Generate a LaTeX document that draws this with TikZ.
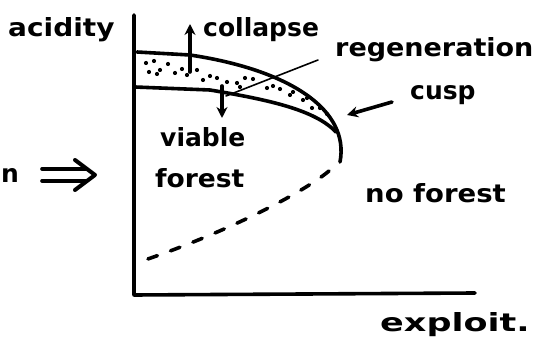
\documentclass[tikz,border=0pt]{standalone}
\usepackage{fontspec}
\setmainfont{DejaVu Sans}
\usetikzlibrary{arrows.meta}
\tikzset{
  hand/.style={inner sep=0pt, font=\fontsize{25}{25}\selectfont\bfseries},
  ink/.style={line width=3.6pt, line cap=round, line join=round, black},
  thinink/.style={line width=1.6pt, line cap=round},
  inkarrow/.style={ink, -{Stealth[length=11pt,width=11pt]}},
  dot/.style={fill=black, circle, inner sep=0pt, minimum size=4.2pt},
}
\begin{document}
\begin{tikzpicture}[x=1pt,y=-1pt]
\useasboundingbox (0,0) rectangle (536,347);
% axes
\coordinate (ytop) at (134,15);
\coordinate (orig) at (134,295);
\coordinate (xend) at (475,293);
\draw[ink] (ytop) -- (orig) -- (xend);
% texts
\node[hand, anchor=west] (acid) at (8,30) {\scalebox{1.12}[1]{acidity}};
\node[hand, anchor=west] (expl) at (380,325) {\scalebox{1.4}[1]{exploit.}};
\node[hand, anchor=west] (coll) at (203,30) {collapse};
\node[hand, anchor=west] (regen) at (335,50) {\scalebox{1.08}[1]{regeneration}};
\node[hand, anchor=west] (cusp) at (410,95) {cusp};
\node[hand, anchor=west] (viab) at (160,137) {viable};
\node[hand, anchor=west] (fore) at (155,178) {\scalebox{1.06}[1]{forest}};
\node[hand, anchor=west] (nofo) at (365,193) {\scalebox{1.1}[1]{no forest}};
\node[hand, anchor=west] (nn) at (1,176) {n};
% upper and lower branches
\coordinate (u0) at (137,52);
\coordinate (u1) at (190,55);
\coordinate (tip) at (340,162);
\coordinate (l0) at (135,87);
\coordinate (l1) at (210,90);
\coordinate (l2) at (336,132);
\draw[ink] (u0) -- (u1) .. controls (290,70) and (350,110) .. (tip);
\draw[ink] (l0) -- (l1) .. controls (270,100) and (315,110) .. (l2);
% dashed unstable branch
\coordinate (d0) at (329,171);
\coordinate (d1) at (139,262);
\draw[ink, dash pattern=on 10pt off 14pt] (d0) .. controls (300,195) and (220,235) .. (d1);
% dots
\foreach \p in {(146,63),(154,61),(149,72),(157,74),(168,64),(175,73),(182,69),(187,75),(197,70),(203,80),(217,78),(237,83),(245,78),(253,79),(240,87),(267,88),(280,89),(290,95),(303,100),(312,108),(273,86),(293,92),(307,98),(320,108),(327,114),(160,70),(210,76),(227,82)}
  \node[dot] at \p {};
% arrows collapse / viable
\coordinate (ca0) at (190,72);
\coordinate (ca1) at (190,24);
\draw[inkarrow] (ca0) -- (ca1);
\coordinate (va0) at (222,86);
\coordinate (va1) at (222,118);
\draw[inkarrow] (va0) -- (va1);
% regeneration pointer
\coordinate (rg0) at (318,60);
\coordinate (rg1) at (226,96);
\draw[thinink] (rg0) -- (rg1);
% cusp arrow
\coordinate (cu0) at (392,102);
\coordinate (cu1) at (347,115);
\draw[inkarrow] (cu0) -- (cu1);
% double arrow
\coordinate (da0) at (42,175);
\coordinate (da1) at (95,175);
\draw[ink] (42,169) -- (86,169);
\draw[ink] (42,181) -- (86,181);
\draw[ink, line width=4pt] (75,160) -- (da1) -- (75,190);
\end{tikzpicture}
\end{document}
